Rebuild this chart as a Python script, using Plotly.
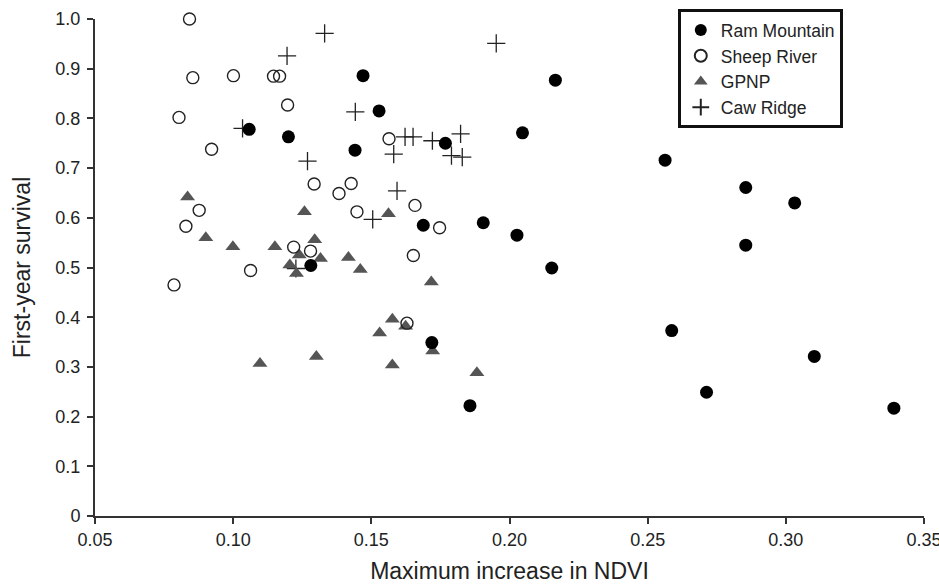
import plotly.graph_objects as go

# Ram Mountain
ram_x = [0.1058, 0.120, 0.147, 0.1528, 0.1441, 0.1768, 0.2047, 0.2166, 0.2563, 0.2855, 0.3032, 0.2027,
         0.2855, 0.2153, 0.2587, 0.2713, 0.3103, 0.3391, 0.1688, 0.1905, 0.1281, 0.1719, 0.1857]
ram_y = [0.778, 0.763, 0.886, 0.815, 0.736, 0.750, 0.771, 0.877, 0.716, 0.661, 0.630, 0.565,
         0.545, 0.499, 0.373, 0.249, 0.321, 0.217, 0.585, 0.590, 0.504, 0.349, 0.222]

# Sheep River
sheep_x = [0.0842, 0.0854, 0.0804, 0.1001, 0.1146, 0.1168, 0.1197, 0.0922, 0.1293, 0.0877, 0.0829, 0.0786,
           0.1063, 0.1219, 0.1280, 0.1564, 0.1383, 0.1427, 0.1448, 0.1658, 0.1747, 0.1652, 0.1629]
sheep_y = [1.000, 0.882, 0.802, 0.886, 0.885, 0.885, 0.827, 0.738, 0.668, 0.615, 0.583, 0.465,
           0.494, 0.541, 0.533, 0.759, 0.649, 0.669, 0.612, 0.625, 0.580, 0.524, 0.388]

# GPNP
gpnp_x = [0.0835, 0.0901, 0.0999, 0.1151, 0.1258, 0.1097, 0.1205, 0.1229, 0.1239, 0.1295, 0.1301,
          0.1316, 0.1417, 0.1460, 0.1562, 0.1717, 0.1576, 0.1530, 0.1624, 0.1722, 0.1576, 0.1882]
gpnp_y = [0.642, 0.560, 0.542, 0.542, 0.612, 0.307, 0.505, 0.488, 0.525, 0.556, 0.321,
          0.518, 0.520, 0.496, 0.608, 0.471, 0.396, 0.368, 0.382, 0.332, 0.304, 0.288]

# Caw Ridge
caw_x = [0.1034, 0.1195, 0.1269, 0.1227, 0.1331, 0.1952, 0.1442, 0.1622, 0.1651, 0.1721, 0.1823,
         0.1581, 0.1790, 0.1829, 0.1593, 0.1505]
caw_y = [0.780, 0.926, 0.714, 0.498, 0.971, 0.951, 0.813, 0.763, 0.763, 0.755, 0.769,
         0.728, 0.725, 0.722, 0.654, 0.597]

x_ticks = [0.05, 0.10, 0.15, 0.20, 0.25, 0.30, 0.35]
x_ticklabels = ["0.05", "0.10", "0.15", "0.20", "0.25", "0.30", "0.35"]
y_ticks = [0, 0.1, 0.2, 0.3, 0.4, 0.5, 0.6, 0.7, 0.8, 0.9, 1.0]
y_ticklabels = ["0", "0.1", "0.2", "0.3", "0.4", "0.5", "0.6", "0.7", "0.8", "0.9", "1.0"]

FONT = "Liberation Sans, Arial, Helvetica, sans-serif"
TXT = "#222222"

fig = go.Figure()
fig.add_trace(go.Scatter(x=caw_x, y=caw_y, mode="markers", name="Caw Ridge",
                         marker=dict(symbol="cross-thin", size=13, color="#222",
                                     line=dict(color="#222", width=1.3)), cliponaxis=False))
fig.add_trace(go.Scatter(x=gpnp_x, y=gpnp_y, mode="markers", name="GPNP",
                         marker=dict(symbol="triangle-up", size=13, color="#555555",
                                     line=dict(width=0)), cliponaxis=False))
fig.add_trace(go.Scatter(x=sheep_x, y=sheep_y, mode="markers", name="Sheep River",
                         marker=dict(symbol="circle-open", size=12, color="#222",
                                     line=dict(color="#222", width=1.4)), cliponaxis=False))
fig.add_trace(go.Scatter(x=ram_x, y=ram_y, mode="markers", name="Ram Mountain",
                         marker=dict(symbol="circle", size=13, color="#000000",
                                     line=dict(width=0)), cliponaxis=False))

fig.update_layout(
    width=939, height=584,
    margin=dict(l=95, r=15, t=19, b=68, autoexpand=False),
    paper_bgcolor="white", plot_bgcolor="white",
    font=dict(family=FONT, size=18, color=TXT),
    showlegend=True,
    legend=dict(x=0.703, y=1.02, xanchor="left", yanchor="top",
                bgcolor="white", bordercolor="#111", borderwidth=3,
                font=dict(family=FONT, size=17.5, color=TXT),
                traceorder="reversed", itemsizing="constant",
                tracegroupgap=0),
    xaxis=dict(range=[0.05, 0.35], tickvals=x_ticks, ticktext=x_ticklabels,
               showgrid=False, zeroline=False, showline=True, linecolor="#333", linewidth=2,
               ticks="outside", ticklen=6, tickcolor="#333", tickwidth=1.5,
               ticklabelstandoff=0, ticklabeloverflow="allow", automargin=False,
               tickfont=dict(family=FONT, size=18, color=TXT),
               title=dict(text="Maximum increase in NDVI", font=dict(family=FONT, size=23, color=TXT),
                          standoff=18)),
    yaxis=dict(range=[0, 1.0], tickvals=y_ticks, ticktext=y_ticklabels,
               showgrid=False, zeroline=False, showline=True, linecolor="#333", linewidth=2,
               ticks="outside", ticklen=6, tickcolor="#333", tickwidth=1.5,
               ticklabelstandoff=3, automargin=False,
               tickfont=dict(family=FONT, size=18, color=TXT),
               title=dict(text="First-year survival", font=dict(family=FONT, size=23, color=TXT),
                          standoff=18)),
)

fig.write_html("out.html", config={"displayModeBar": False},
               post_script="document.body.style.margin='0px';document.body.style.overflow='hidden';")
